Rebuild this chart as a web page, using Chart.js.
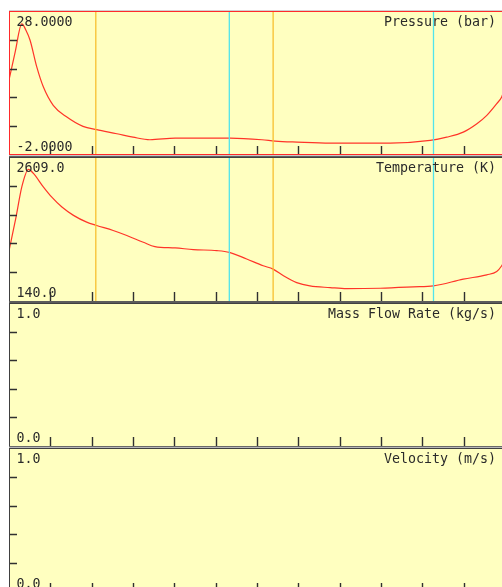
<!DOCTYPE html>
<html>
<head>
<meta charset="utf-8">
<script src="https://cdn.jsdelivr.net/npm/chart.js@4.4.1/dist/chart.umd.min.js"></script>
<style>
  html, body { margin: 0; padding: 0; background: #fff; overflow: hidden; }
  #wrap { position: relative; width: 502px; height: 587px; overflow: hidden; }
  canvas { position: absolute; left: 9px; }
  .sep { position: absolute; left: 9px; width: 497px; }
</style>
</head>
<body>
<div id="wrap">
  <div class="sep" style="top:10px;height:1px;background:#d0d0d0"></div>
  <canvas id="pressure" width="496" height="144" style="top:11px"></canvas>
  <div class="sep" style="top:155px;height:1px;background:#c8c8c8"></div>
  <div class="sep" style="top:156px;height:1px;background:#606060"></div>
  <canvas id="temperature" width="496" height="144" style="top:157px"></canvas>
  <div class="sep" style="top:301px;height:2px;background:#5c5c5c"></div>
  <canvas id="massflow" width="496" height="143" style="top:303px"></canvas>
  <div class="sep" style="top:446px;height:1px;background:#6a6a6a"></div>
  <div class="sep" style="top:447px;height:1px;background:#b8b8b8"></div>
  <canvas id="velocity" width="496" height="144" style="top:448px"></canvas>
</div>
<script>
// position along the line (one unit per bottom tick)
const pressureX = [0.01, 0.15, 0.31, 0.41, 0.51, 0.67, 0.83, 1.07, 1.40, 1.79, 2.12, 2.61, 3.0, 3.41,
  4.02, 5.35, 6.12, 6.44, 6.97, 7.77, 9.22, 10.19, 10.59, 10.99, 11.32, 11.56, 11.80, 11.92, 12.0];
const pressureBar = [14.0, 19.5, 25.3, 24.0, 21.9, 16.4, 12.2, 8.35, 5.9, 3.96, 3.27, 2.43, 1.72, 1.18,
  1.51, 1.51, 1.18, 0.89, 0.68, 0.47, 0.47, 1.03, 1.72, 2.77, 4.52, 6.26, 8.70, 10.1, 12.0];

const temperatureX = [0.01, 0.17, 0.31, 0.47, 0.59, 0.83, 1.03, 1.28, 1.56, 1.88, 2.12, 2.52, 2.85, 3.25,
  3.53, 4.02, 4.46, 5.03, 5.33, 5.75, 6.15, 6.39, 6.64, 6.96, 7.28, 7.77, 8.17, 8.98, 9.78, 10.27,
  10.99, 11.56, 11.80, 11.92, 12.0];
const temperatureK = [1033, 1579, 2097, 2397, 2328, 2097, 1924, 1751, 1608, 1492, 1435, 1349, 1263, 1147,
  1073, 1050, 1021, 1004, 974, 860, 744, 687, 572, 456, 399, 370, 352, 359, 382, 399,
  515, 589, 646, 744, 850];

const markerX = [2.10, 5.33, 6.39, 10.27];
const markerColors = ["#f7c030", "#50e4ec", "#f7c030", "#50e4ec"];

const bottomTicks = [1, 2, 3, 4, 5, 6, 7, 8, 9, 10, 11, 12];

const BG = "#ffffc0";
const CURVE = "#ff3428";
const TEXT = "#2a2a2a";
const FONT = '13.3px "DejaVu Sans Mono"';

const panelDecor = {
  id: "panelDecor",
  beforeDraw(chart, args, opts) {
    const c = chart.ctx;
    c.save();
    c.fillStyle = BG;
    c.fillRect(0, 0, chart.width, chart.height);
    c.restore();
  },
  afterDraw(chart, args, opts) {
    const c = chart.ctx;
    const xs = chart.scales.x;
    const ys = chart.scales.y;
    const w = chart.width, h = chart.height;
    c.save();
    // tick marks inside the panel
    c.strokeStyle = "#303030";
    c.lineWidth = 1.4;
    c.beginPath();
    bottomTicks.forEach(t => {
      const px = Math.round(xs.getPixelForValue(t)) + 0.5;
      c.moveTo(px, h);
      c.lineTo(px, h - 9);
    });
    for (let k = 1; k < 5; k++) {
      const v = opts.min + (opts.max - opts.min) * k / 5;
      const py = Math.round(ys.getPixelForValue(v)) + 0.5;
      c.moveTo(0, py);
      c.lineTo(8, py);
    }
    c.stroke();
    // border
    c.fillStyle = opts.border;
    c.fillRect(0, 0, 1, h);
    c.fillRect(0, 0, w, 1);
    if (opts.bottomBorder) c.fillRect(0, h - 1, w, 1);
    // labels
    c.fillStyle = TEXT;
    c.font = FONT;
    c.textBaseline = "alphabetic";
    c.textAlign = "left";
    c.fillText(opts.maxLabel, 7.5, 15);
    c.fillText(opts.minLabel, 7.5, h - 4);
    c.textAlign = "right";
    c.fillText(opts.title, 487, 15);
    c.restore();
  }
};

function toPoints(xs, ys) {
  return xs.map((x, i) => ({ x: x, y: ys[i] }));
}

function makePanel(id, title, min, max, minLabel, maxLabel, curve, markers, border, bottomBorder) {
  const datasets = [];
  if (markers) {
    markerX.forEach((m, i) => {
      datasets.push({
        data: [{ x: m, y: min - (max - min) }, { x: m, y: max + (max - min) }],
        borderColor: markerColors[i],
        borderWidth: 1.3,
        pointRadius: 0,
      });
    });
  }
  if (curve) {
    datasets.push({
      data: curve,
      borderColor: CURVE,
      borderWidth: 1.2,
      pointRadius: 0,
      tension: 0.35,
      cubicInterpolationMode: "monotone",
    });
  }
  return new Chart(document.getElementById(id), {
    type: "line",
    data: { datasets: datasets },
    options: {
      responsive: false,
      animation: false,
      events: [],
      layout: { padding: 0 },
      plugins: {
        legend: { display: false },
        tooltip: { enabled: false },
        panelDecor: { min, max, minLabel, maxLabel, title, border, bottomBorder },
      },
      scales: {
        x: { type: "linear", min: 0, max: 12, display: false },
        y: { type: "linear", min: min, max: max, display: false },
      },
    },
    plugins: [panelDecor],
  });
}

makePanel("pressure", "Pressure (bar)", -2, 28, "-2.0000", "28.0000",
  toPoints(pressureX, pressureBar), true, "#ff2a2a", true);
makePanel("temperature", "Temperature (K)", 140, 2609, "140.0", "2609.0",
  toPoints(temperatureX, temperatureK), true, "#404040", false);
makePanel("massflow", "Mass Flow Rate (kg/s)", 0, 1, "0.0", "1.0", null, false, "#404040", false);
makePanel("velocity", "Velocity (m/s)", 0, 1, "0.0", "1.0", null, false, "#404040", false);
</script>
</body>
</html>
